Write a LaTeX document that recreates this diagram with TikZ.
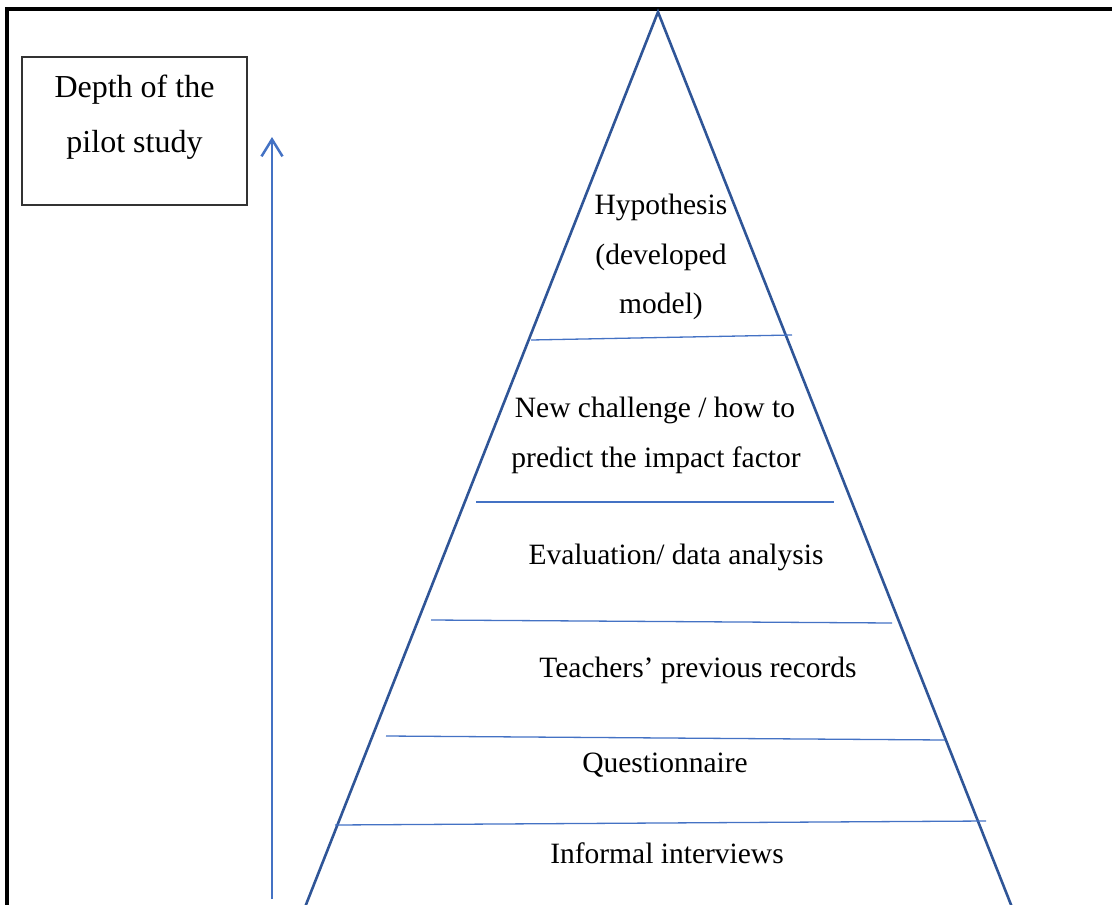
\documentclass[tikz,border=0pt]{standalone}
\usepackage{fontspec}
\setmainfont{Liberation Serif}
\usetikzlibrary{arrows.meta}
\definecolor{pyrblue}{HTML}{2F5597}
\definecolor{lineblue}{HTML}{4472C4}
\begin{document}
\begin{tikzpicture}[x=1pt,y=-1pt,
  lbl/.style={anchor=base,font=\fontsize{29.5}{50}\selectfont,inner sep=0pt},
  boxlbl/.style={lbl,font=\fontsize{32}{54}\selectfont},
  tier/.style={draw=lineblue,line width=1.3pt},
  pyr/.style={draw=pyrblue,line width=2.6pt,line join=miter},
  frameline/.style={draw=black,line width=3.2pt}]
\useasboundingbox (0,0) rectangle (1112,905);
\clip (0,0) rectangle (1112,905);

% outer frame (top and left edges)
\coordinate (fTL) at (7,9);
\coordinate (fTR) at (1130,9);
\coordinate (fBL) at (7,920);
\draw[frameline] (fTR) -- (fTL) -- (fBL);

% title box
\node[draw=black!80,line width=1.2pt,minimum width=225pt,minimum height=148pt,inner sep=0pt]
  (title) at (134.5,131) {};
\node[boxlbl] (t1) at (134.5,97) {Depth of the};
\node[boxlbl] (t2) at (134.5,152) {pilot study};

% depth arrow
\coordinate (arrBot) at (272,899);
\coordinate (arrTop) at (272,137);
\draw[draw=lineblue,line width=2.8pt,-{Straight Barb[length=17pt,width=21pt,line width=2.5pt]}] (arrBot) -- (arrTop);

% pyramid outline
\coordinate (apex) at (658,12);
\coordinate (baseL) at (296,930);
\coordinate (baseR) at (1021,930);
\draw[pyr] (baseL) -- (apex) -- (baseR);

% tier separators
\coordinate (s1a) at (531,340); \coordinate (s1b) at (792,335);
\coordinate (s2a) at (476,502); \coordinate (s2b) at (834,502);
\coordinate (s3a) at (431,620); \coordinate (s3b) at (892,623);
\coordinate (s4a) at (386,736); \coordinate (s4b) at (945,740);
\coordinate (s5a) at (335,825); \coordinate (s5b) at (986,821);
\draw[tier] (s1a) -- (s1b);
\draw[tier] (s2a) -- (s2b);
\draw[tier] (s3a) -- (s3b);
\draw[tier] (s4a) -- (s4b);
\draw[tier] (s5a) -- (s5b);

% tier labels
\node[lbl] (h1) at (661,214) {Hypothesis};
\node[lbl] (h2) at (661,264) {(developed};
\node[lbl] (h3) at (661,313) {model)};
\node[lbl] (n1) at (655,417) {New challenge / how to};
\node[lbl] (n2) at (656,467) {predict the impact factor};
\node[lbl] (ev) at (676,564) {Evaluation/ data analysis};
\node[lbl] (tp) at (698,677) {Teachers’ previous records};
\node[lbl] (qu) at (665,772) {Questionnaire};
\node[lbl] (ii) at (667,863) {Informal interviews};
\end{tikzpicture}
\end{document}
